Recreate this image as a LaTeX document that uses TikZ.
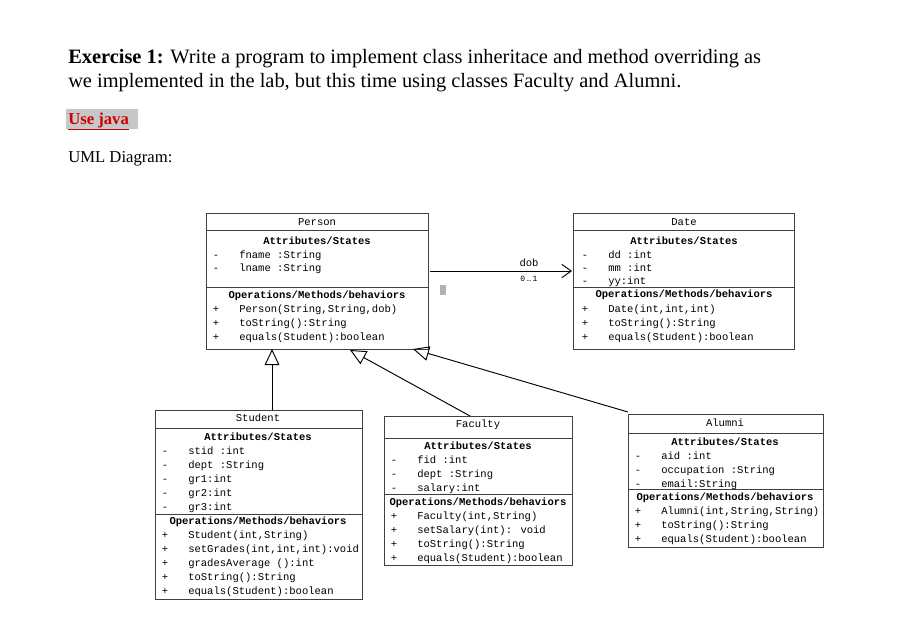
\documentclass[tikz,border=0pt]{standalone}
\usepackage{fontspec}
\setmainfont{Liberation Serif}
\newfontfamily\umlf{Liberation Mono}
\usetikzlibrary{arrows.meta}
\begin{document}
\begin{tikzpicture}[x=0.75pt,y=-0.75pt,
  box/.style={draw=black!75,line width=0.6pt},
  u/.style={font=\umlf\fontsize{7.9}{9}\selectfont,inner sep=0pt},
  ub/.style={u,font=\umlf\bfseries\fontsize{7.9}{9}\selectfont},
  gen/.style={line width=0.7pt,-{Triangle[open,length=12pt,width=11pt]}},
  hd/.style={font=\fontsize{15.3}{18}\selectfont,inner sep=0pt,anchor=base west}]
\useasboundingbox (0,0) rectangle (906,622);
\fill[white] (0,0) rectangle (906,622);
% header
\node[hd] (t1) at (68,63) {\textbf{Exercise 1:} Write a program to implement class inheritace and method overriding as};
\node[hd] (t2) at (68,87) {we implemented in the lab, but this time using classes Faculty and Alumni.};
\fill[black!22] (66,109) rectangle (138,129);
\node[hd,font=\fontsize{12.5}{14}\selectfont\bfseries,text=red!80!black] (uj) at (68,124) {\underline{Use java}};
\node[hd,font=\fontsize{12.5}{14}\selectfont] (uml) at (68,162) {UML Diagram:};
\newcommand\mem[4]{\node[u,anchor=base] at (#1,#2) {#3}; \node[u,anchor=base west] at (#1+23,#2) {#4};}
% Person
\draw[box] (206,213) rectangle (428,349); \draw[box] (206,230)--(428,230) (206,287)--(428,287);
\node[u,anchor=base] (person) at (317,225) {Person};
\node[ub,anchor=base] at (317,244) {Attributes/States};
\mem{216}{258}{-}{fname :String}
\mem{216}{271}{-}{lname :String}
\node[ub,anchor=base] at (317,298) {Operations/Methods/behaviors};
\mem{216}{312}{+}{Person(String,String,dob)}
\mem{216}{326}{+}{toString():String}
\mem{216}{340}{+}{equals(Student):boolean}
% Date
\draw[box] (573,213) rectangle (794,349); \draw[box] (573,230)--(794,230) (573,287)--(794,287);
\node[u,anchor=base] (date) at (684,225) {Date};
\node[ub,anchor=base] at (684,244) {Attributes/States};
\mem{585}{258}{-}{dd :int}
\mem{585}{271}{-}{mm :int}
\mem{585}{284}{-}{yy:int}
\node[ub,anchor=base] at (684,297) {Operations/Methods/behaviors};
\mem{585}{312}{+}{Date(int,int,int)}
\mem{585}{326}{+}{toString():String}
\mem{585}{340}{+}{equals(Student):boolean}
% association
\coordinate (pa) at (430,271); \coordinate (da) at (572,271);
\draw[line width=0.7pt,-{Straight Barb[length=7pt,width=10pt]}] (pa) -- (da);
\node[u,anchor=base] (dob) at (529,266) {dob};
\node[u,anchor=base,font=\umlf\fontsize{6}{7}\selectfont] (card) at (529,281) {0\,…\,1};
\fill[black!30] (440,285) rectangle (446,295);
% Student
\draw[box] (155,410) rectangle (362,599); \draw[box] (155,428)--(362,428) (155,514)--(362,514);
\node[u,anchor=base] (student) at (258,421) {Student};
\node[ub,anchor=base] at (258,440) {Attributes/States};
\mem{165}{454}{-}{stid :int}
\mem{165}{468}{-}{dept :String}
\mem{165}{482}{-}{gr1:int}
\mem{165}{496}{-}{gr2:int}
\mem{165}{510}{-}{gr3:int}
\node[ub,anchor=base] at (258,524) {Operations/Methods/behaviors};
\mem{165}{538}{+}{Student(int,String)}
\mem{165}{552}{+}{setGrades(int,int,int):void}
\mem{165}{566}{+}{gradesAverage ():int}
\mem{165}{580}{+}{toString():String}
\mem{165}{594}{+}{equals(Student):boolean}
% Faculty
\draw[box] (384,416) rectangle (572,565); \draw[box] (384,438)--(572,438) (384,494)--(572,494);
\node[u,anchor=base] (faculty) at (478,427) {Faculty};
\node[ub,anchor=base] at (478,449) {Attributes/States};
\mem{394}{463}{-}{fid :int}
\mem{394}{477}{-}{dept :String}
\mem{394}{491}{-}{salary:int}
\node[ub,anchor=base] at (478,505) {Operations/Methods/behaviors};
\mem{394}{519}{+}{Faculty(int,String)}
\mem{394}{533}{+}{setSalary(int): void}
\mem{394}{547}{+}{toString():String}
\mem{394}{561}{+}{equals(Student):boolean}
% Alumni
\draw[box] (628,414) rectangle (823,547); \draw[box] (628,433)--(823,433) (628,489)--(823,489);
\node[u,anchor=base] (alumni) at (725,426) {Alumni};
\node[ub,anchor=base] at (725,445) {Attributes/States};
\mem{638}{459}{-}{aid :int}
\mem{638}{473}{-}{occupation :String}
\mem{638}{487}{-}{email:String}
\node[ub,anchor=base] at (725,500) {Operations/Methods/behaviors};
\mem{638}{514}{+}{Alumni(int,String,String)}
\mem{638}{528}{+}{toString():String}
\mem{638}{542}{+}{equals(Student):boolean}
% generalizations
\coordinate (s1) at (272,410); \coordinate (p1) at (272,349);
\coordinate (f1) at (470,416); \coordinate (p2) at (350,350);
\coordinate (a1) at (628,412); \coordinate (p3) at (413,349);
\draw[gen] (s1) -- (p1);
\draw[gen] (f1) -- (p2);
\draw[gen] (a1) -- (p3);
\end{tikzpicture}
\end{document}
